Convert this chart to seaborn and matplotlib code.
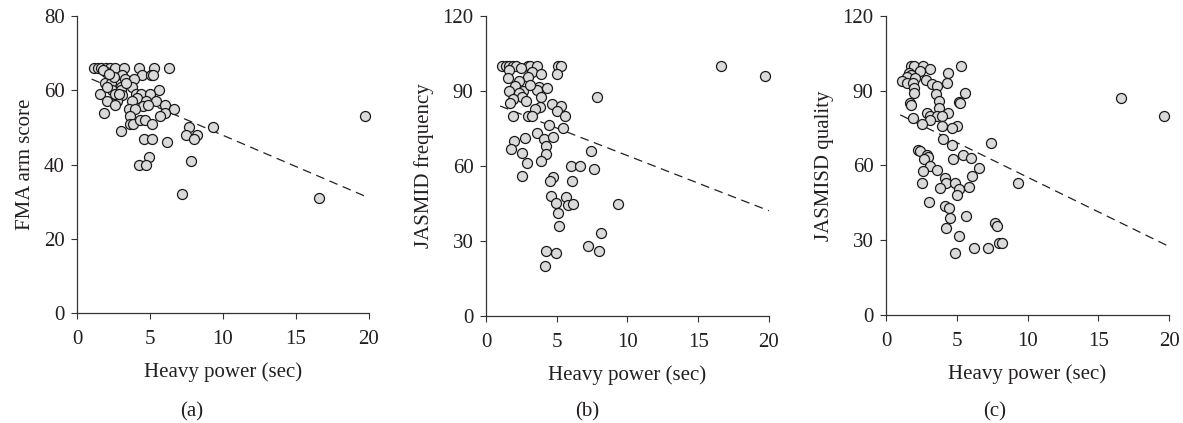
import numpy as np
import pandas as pd
import matplotlib
matplotlib.use("Agg")
import matplotlib.pyplot as plt
import seaborn as sns

# values
fma_x = [1.17, 1.46, 1.67, 1.97, 2.24, 2.58, 3.2, 4.25, 5.26, 6.29,
         2.0, 3.1, 4.46, 5.1, 5.2, 3.27, 3.9, 1.9, 2.3, 3.0, 3.8,
         5.6, 2.4, 3.0, 1.6, 4.07, 4.4, 5.0, 3.1, 4.1, 2.06, 2.74,
         4.7, 5.4, 3.8, 6.06, 4.5, 2.58, 3.57, 3.95, 6.65, 6.06, 1.83,
         5.7, 3.6, 3.6, 3.84, 4.3, 4.66, 5.17, 7.68, 9.33, 3.0, 7.45,
         8.2, 8.0, 4.57, 5.17, 6.17, 4.96, 4.25, 4.75, 7.84, 7.2, 16.6,
         19.7, 2.5, 2.06, 2.6, 2.9, 1.75, 2.2, 3.35, 4.85]
fma_y = [66, 66, 66, 66, 66, 66, 66, 66, 66, 66,
         65, 64, 64, 64, 64, 63, 63, 62, 62, 61, 61,
         60, 60, 60, 59, 59, 59, 59, 58.7, 58, 57, 57,
         57, 57, 57, 56, 55.7, 56, 55, 55, 55, 54, 54,
         53, 53, 51, 51, 52, 52, 51, 50, 50, 49, 48,
         48, 47, 47, 47, 46, 42, 40, 40, 41, 32, 31,
         53, 63.6, 61, 59, 59, 65.5, 64.5, 62, 56]

freq_x = [1.13, 1.41, 1.65, 1.88, 2.1, 2.96, 3.13, 3.6, 5.08, 5.3,
          1.65, 2.5, 3.24, 3.88, 5.05, 1.55, 3.0, 2.3, 2.02, 3.78,
          4.3, 3.6, 1.6, 2.6, 2.3, 3.08, 3.9, 2.54, 1.9, 2.82, 1.72,
          7.83, 4.68, 5.29, 3.83, 3.5, 5.0, 1.9, 2.96, 3.24, 5.6,
          4.44, 5.45, 3.6, 4.07, 4.72, 2.73, 2.0, 4.23, 1.79, 7.43,
          2.58, 4.25, 2.92, 3.88, 6.0, 6.65, 7.66, 2.56, 4.77, 4.49,
          6.1, 4.58, 5.64, 4.96, 5.83, 6.18, 9.33, 5.12, 5.15, 8.13,
          7.19, 7.98, 4.25, 4.93, 4.2, 16.6, 19.7]
freq_y = [100, 100, 100, 100, 100, 100, 100, 100, 100, 100,
          98.4, 99, 97.7, 96.8, 96.8, 95, 95.5, 94, 92, 91.5,
          91, 90.4, 90, 90, 89, 92.4, 87.5, 87.5, 86.7, 86, 85,
          87.5, 84.7, 84, 83.7, 82.7, 82, 80, 80, 80, 80,
          76.5, 75.2, 73.3, 70.7, 71.7, 71.3, 70, 68, 66.7, 66,
          65, 64.8, 61, 62, 60, 60, 58.7, 56, 55.5, 54,
          54, 48, 47.5, 45, 44.4, 44.8, 44.7, 41.3, 36, 33,
          28, 26, 26, 25, 20, 100, 96]

qual_x = [1.77, 2.0, 2.64, 5.3, 3.07, 2.43, 4.41, 1.6, 1.77, 1.46,
          2.08, 1.13, 2.83, 4.32, 1.46, 1.89, 3.23, 3.58, 1.96, 1.96,
          5.59, 3.54, 3.77, 5.14, 5.23, 1.72, 1.77, 3.77, 2.9, 4.36,
          3.07, 3.6, 3.96, 1.89, 3.14, 2.52, 3.96, 5.02, 4.67, 4.03,
          7.43, 4.67, 2.24, 2.4, 5.42, 2.9, 2.99, 2.71, 4.72, 6.01,
          3.07, 6.6, 3.58, 2.6, 6.08, 4.2, 4.25, 2.55, 4.9, 9.32,
          5.12, 3.82, 5.85, 4.99, 3.02, 4.17, 4.48, 5.66, 4.55, 7.67,
          7.85, 4.25, 5.14, 6.18, 7.19, 7.97, 8.2, 4.88, 16.6, 19.65]
qual_y = [99.9, 100, 100, 100, 98.7, 98, 97, 97, 96.3, 95.7,
          95, 94, 94.3, 93.2, 93.2, 93.2, 92.6, 92, 91.2, 89,
          89, 88.6, 85.9, 85.5, 85, 85, 84.1, 83, 81.2, 81.2,
          79.9, 79.9, 79.9, 79, 78.3, 76.7, 75.9, 76, 74.9, 70.5,
          69.2, 68.2, 66.2, 65.8, 64.2, 64.2, 63.5, 62.5, 62.5, 62.9,
          59.8, 58.9, 58.2, 57.9, 55.9, 54.8, 53.1, 52.8, 52.8, 52.8,
          50.6, 50.8, 51.2, 48.2, 45.5, 43.9, 42.8, 39.9, 38.8, 36.8,
          35.7, 34.8, 31.8, 27, 27, 28.8, 28.8, 24.7, 87, 80]

# fitted trend lines as drawn (slope, intercept)
fit_slope = [-1.684, -2.205, -2.78]
fit_intercept = [64.7, 86.2, 83.1]

ylabels = ["FMA arm score", "JASMID frequency", "JASMISD quality"]
ymax = [80, 120, 120]
ystep = [20, 30, 30]
panel_tags = ["(a)", "(b)", "(c)"]

sns.set_style("ticks")
plt.rcParams["font.family"] = ["Liberation Serif", "DejaVu Serif"]
plt.rcParams["font.size"] = 15
plt.rcParams["text.color"] = "#231f20"
plt.rcParams["axes.labelcolor"] = "#231f20"
plt.rcParams["xtick.labelcolor"] = "#231f20"
plt.rcParams["ytick.labelcolor"] = "#231f20"

fig = plt.figure(figsize=(11.83, 4.23), dpi=100)
boxes = [[0.0651, 0.260, 0.2468, 0.7022],
         [0.4108, 0.253, 0.2392, 0.7092],
         [0.7490, 0.2553, 0.2392, 0.7070]]
tag_x = [192 / 1183, 587 / 1183, 995 / 1183]

xs = [fma_x, freq_x, qual_x]
ys = [fma_y, freq_y, qual_y]

for i in range(3):
    ax = fig.add_axes(boxes[i])
    df = pd.DataFrame({"x": xs[i], "y": ys[i]})
    sns.scatterplot(data=df, x="x", y="y", ax=ax, s=52, color="#dadada",
                    edgecolor="#1a1a1a", linewidth=0.9, zorder=3, clip_on=False)
    fx = np.array([1.0, 20.0])
    line = pd.DataFrame({"x": fx, "y": fit_slope[i] * fx + fit_intercept[i]})
    sns.lineplot(data=line, x="x", y="y", ax=ax, color="#222222", linewidth=0.9,
                 dashes=False, zorder=2)
    ax.lines[-1].set_dashes([7, 4.5])

    ax.set_xlim(0, 20)
    ax.set_ylim(0, ymax[i])
    ax.set_xticks([0, 5, 10, 15, 20])
    ax.set_yticks(np.arange(0, ymax[i] + 1, ystep[i]))
    ax.set_xlabel("Heavy power (sec)", fontsize=15, labelpad=10)
    ax.set_ylabel(ylabels[i], fontsize=15, labelpad=6)
    ax.tick_params(labelsize=15, length=4, width=0.8, color="#333333",
                   direction="out")
    ax.tick_params(axis="x", pad=8)
    ax.tick_params(axis="y", pad=5)
    for side in ["right", "top"]:
        ax.spines[side].set_visible(False)
    for side in ["left", "bottom"]:
        ax.spines[side].set_linewidth(0.9)
        ax.spines[side].set_color("#333333")
    fig.text(tag_x[i], 1 - 412 / 423, panel_tags[i], ha="center", va="center",
             fontsize=15)

fig.savefig("out.png", dpi=100)
